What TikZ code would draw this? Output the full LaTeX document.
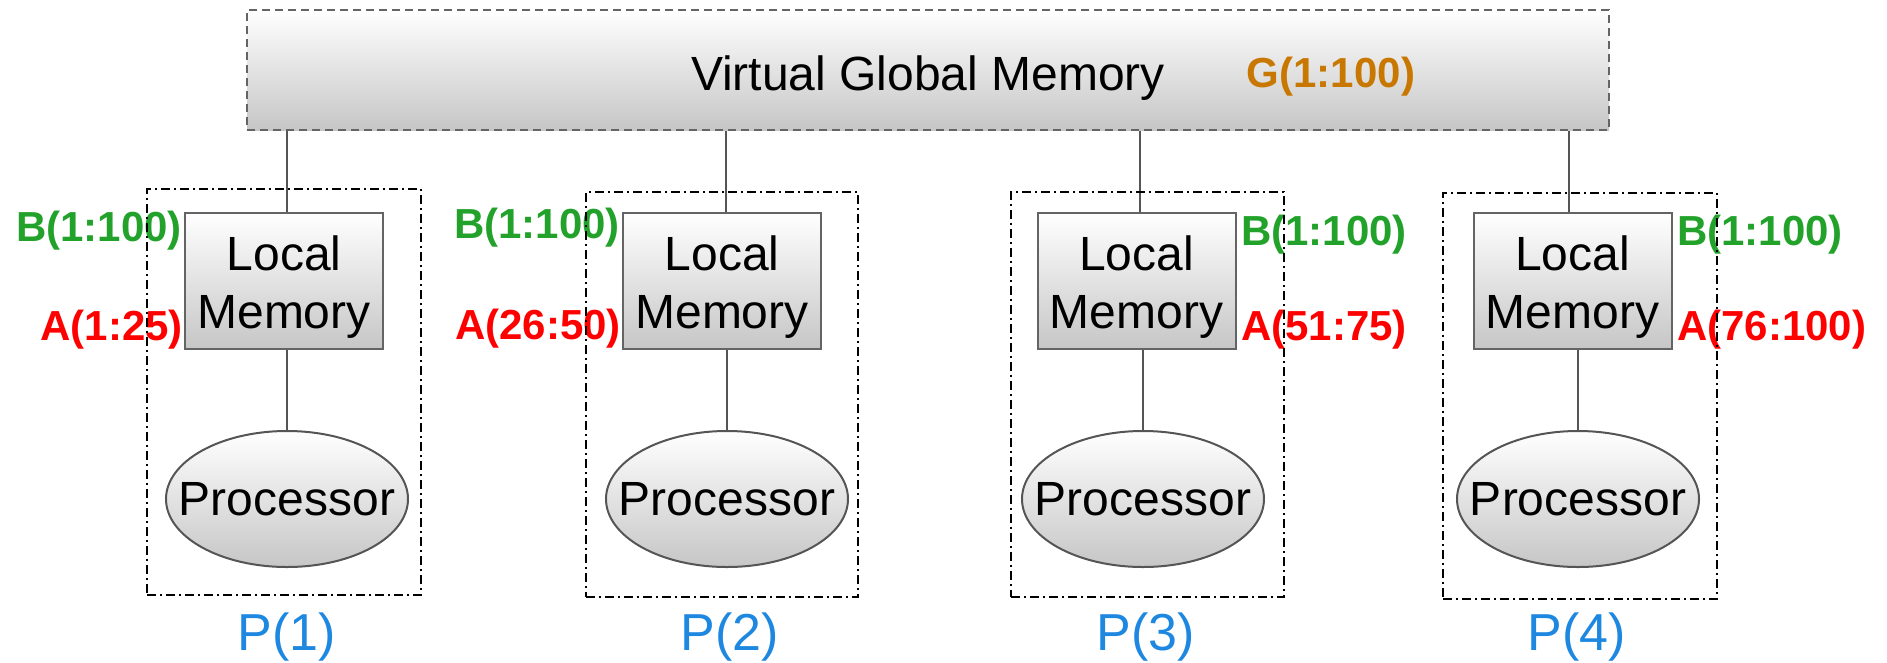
\documentclass[tikz,border=0pt]{standalone}
\usepackage{fontspec}
\setmainfont{Liberation Sans}
\usetikzlibrary{shapes.geometric}

\definecolor{boxedge}{RGB}{100,100,100}
\definecolor{linkgray}{RGB}{85,85,85}
\definecolor{shadebot}{RGB}{198,198,198}
\definecolor{labgreen}{RGB}{34,162,42}
\definecolor{labred}{RGB}{255,0,0}
\definecolor{laborange}{RGB}{200,120,0}
\definecolor{labblue}{RGB}{30,136,224}

\tikzset{
  bigfont/.style={font=\fontsize{48}{58}\selectfont},
  globalbox/.style={draw=boxedge, line width=2, dash pattern=on 8 off 5,
    top color=white, bottom color=shadebot, minimum width=1362,
    minimum height=120, inner sep=0},
  memorybox/.style={draw=boxedge, line width=2, top color=white,
    bottom color=shadebot, minimum width=198, minimum height=136,
    inner sep=0},
  cpunode/.style={ellipse, draw=linkgray, line width=2, top color=white,
    bottom color=shadebot, minimum width=242, minimum height=136,
    inner sep=0, bigfont},
  boxtext/.style={bigfont, align=center, inner sep=0},
  procframe/.style={draw=black, line width=2,
    dash pattern=on 9 off 4 on 2 off 4, inner sep=0},
  link/.style={draw=linkgray, line width=1.6},
  rangelab/.style={font=\fontsize{42}{48}\selectfont\bfseries, inner sep=0},
  proclab/.style={font=\fontsize{52}{60}\selectfont, text=labblue, inner sep=0},
}

\begin{document}
\begin{tikzpicture}[x=1pt, y=-1pt]
\useasboundingbox (0,0) rectangle (1887,662);

% shared memory across all processors
\node[globalbox] (gm) at (928,70) {};
\node[boxtext] (gmtext) at (928,78) {Virtual Global Memory};
\node[rangelab, text=laborange] (g) at (1331,77) {G(1:100)};

% one column per processor:
% index / box centre / top link offset / ellipse offset / label x
\foreach \i/\bx/\uo/\eo/\px in {
    1/284/3/3/287,
    2/722/4/5/730,
    3/1136.5/3.5/6.5/1146,
    4/1572.5/-3.5/5.5/1577}{
  \node[memorybox] (lm\i) at (\bx,281) {};
  \node[boxtext] (lt\i) at (\bx,287) {Local\\Memory};
  \node[cpunode] (pr\i) at (\bx+\eo,499) {\makebox[0pt]{Processor}};
  \draw[link] ([xshift=\uo]lm\i.north |- gm.south) -- ([xshift=\uo]lm\i.north);
  \draw[link] (lm\i.south -| pr\i.north) -- (pr\i.north);
  \node[proclab] (p\i) at (\px,637) {P(\i)};
}

% data ranges held in each local memory
\node[rangelab, text=labgreen, anchor=east] (b1) at (182,231) {B(1:100)};
\node[rangelab, text=labred, anchor=east] (a1) at (183,330) {A(1:25)};
\node[rangelab, text=labgreen, anchor=east] (b2) at (620,228) {B(1:100)};
\node[rangelab, text=labred, anchor=east] (a2) at (621,329) {A(26:50)};
\node[rangelab, text=labgreen, anchor=west] (b3) at (1241,235) {B(1:100)};
\node[rangelab, text=labred, anchor=west] (a3) at (1241,330) {A(51:75)};
\node[rangelab, text=labgreen, anchor=west] (b4) at (1677,235) {B(1:100)};
\node[rangelab, text=labred, anchor=west] (a4) at (1677,330) {A(76:100)};

% processor boundaries
\foreach \i/\fl/\fr/\ft/\fb in {
    1/147/421/189/595, 2/586/858/192/597,
    3/1011/1284/192/597, 4/1443/1717/193/599}{
  \node[procframe, minimum width=\fr-\fl, minimum height=\fb-\ft]
    (f\i) at ({(\fl+\fr)/2},{(\ft+\fb)/2}) {};
}
\end{tikzpicture}
\end{document}
